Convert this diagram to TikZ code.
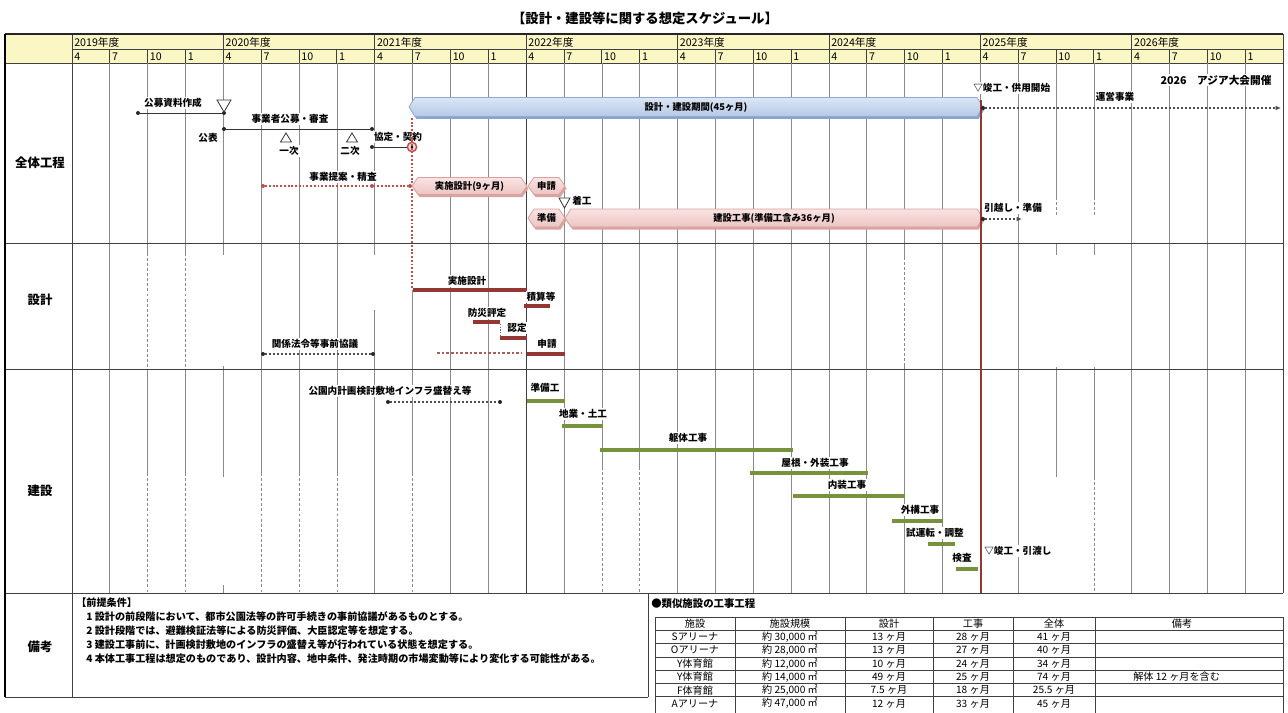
\documentclass[tikz,border=0pt]{standalone}
\usepackage{fontspec}
\setmainfont{Noto Sans CJK JP}
\usetikzlibrary{arrows.meta}
\definecolor{hdr}{HTML}{FAF7C4}
\definecolor{gridc}{HTML}{8A8A8A}
\definecolor{blueA}{HTML}{DCE6F4}
\definecolor{blueB}{HTML}{B4C8E6}
\definecolor{blueC}{HTML}{8FAAD4}
\definecolor{blueS}{HTML}{8AA5CC}
\definecolor{pinkA}{HTML}{F8E4E3}
\definecolor{pinkB}{HTML}{ECC4C2}
\definecolor{pinkC}{HTML}{D8A09E}
\definecolor{pinkS}{HTML}{D9A3A1}
\definecolor{dred}{HTML}{943634}
\definecolor{olive}{HTML}{76923C}
\definecolor{redline}{HTML}{C0504D}
% hexagonal bar: #1 style, #2 shadow colour, #3 x1, #4 x2, #5 y centre, #6 half height, #7 name, #8 text
\newcommand\hexbar[8]{%
  \fill[#2] ({#3+1.5},{#5+2.5}) -- ({#3+7.5},{#5-#6+2.5}) -- ({#4-4.5},{#5-#6+2.5}) -- ({#4+1.5},{#5+2.5}) -- ({#4-4.5},{#5+#6+2.5}) -- ({#3+7.5},{#5+#6+2.5}) -- cycle;
  \path[#1] (#3,#5) -- ({#3+6},{#5-#6}) -- ({#4-6},{#5-#6}) -- (#4,#5) -- ({#4-6},{#5+#6}) -- ({#3+6},{#5+#6}) -- cycle;
  \node[barlbl] (#7) at ({(#3+#4)/2},#5) {#8};}
% table row: #1 index, #2 y, #3..#7 cells
\newcommand\tabrow[7]{%
  \node[tab] (t#1a) at (695,#2) {#3};
  \node[tab] (t#1b) at (790,#2) {#4};
  \node[tab] (t#1c) at (889,#2) {#5};
  \node[tab] (t#1d) at (973,#2) {#6};
  \node[tab] (t#1e) at (1054,#2) {#7};}
\begin{document}
\begin{tikzpicture}[x=0.75pt,y=-0.75pt,
  lbl/.style={font=\bfseries\fontsize{7.2}{8}\selectfont, inner sep=0.8pt, fill=white},
  barlbl/.style={font=\bfseries\fontsize{7}{8}\selectfont, inner sep=0pt},
  sec/.style={font=\bfseries\fontsize{9.3}{11}\selectfont},
  hd/.style={font=\fontsize{8}{9}\selectfont, anchor=west, inner sep=0pt},
  note/.style={font=\bfseries\fontsize{7.6}{9}\selectfont, anchor=west, inner sep=0pt},
  tab/.style={font=\fontsize{7.6}{9}\selectfont, inner sep=0pt},
  grid/.style={draw=gridc, line width=0.55pt},
  gdash/.style={grid, dash pattern=on 2.2pt off 1.6pt},
  frame/.style={draw=black!75, line width=0.7pt},
  gbar/.style={draw=olive, line width=3.6pt},
  rbar/.style={draw=dred, line width=3pt},
  dotl/.style={draw=black!70, dash pattern=on 1.6pt off 1.4pt, line width=0.8pt},
  pdot/.style={draw=redline, dash pattern=on 1.4pt off 1.4pt, line width=0.9pt},
  rdash/.style={draw=dred!80, dash pattern=on 2pt off 1.5pt, line width=1.2pt},
  pt/.style={circle, fill=black!85, inner sep=0pt, minimum size=3pt},
  ppt/.style={circle, fill=redline, inner sep=0pt, minimum size=3pt},
  tri/.style={draw=black!80, line width=0.6pt, fill=white},
  bluehex/.style={top color=blueA, bottom color=blueB, draw=blueC, line width=0.6pt},
  pinkhex/.style={top color=pinkA, bottom color=pinkB, draw=pinkC, line width=0.6pt},
  arr/.style={-{Latex[length=4pt,width=3.5pt]}}
]
\useasboundingbox[fill=white] (0,0) rectangle (1288,713);

% title
\node[font=\bfseries\fontsize{10}{12}\selectfont] (title) at (645,18) {【設計・建設等に関する想定スケジュール】};

% header band
\fill[hdr] (5,35) rectangle (1283,63);
\foreach \yy in {0,...,7} {
  \pgfmathtruncatemacro\yr{2019+\yy}
  \node[hd] (yr\yy) at ({72+151.4*\yy+2},42) {\yr 年度};
  \foreach \m [count=\j from 0] in {4,7,10,1}
    \node[hd] (mo\yy-\j) at ({72+151.4*\yy+37.85*\j+2},56.5) {\m};
}
\foreach \k in {0,...,32} {
  \pgfmathsetmacro\xx{72+37.85*\k}
  \pgfmathsetmacro\yt{mod(\k,4)==0 ? 35 : 49}
  \draw[frame] (\xx,\yt) -- (\xx,63);
}
\draw[black!85, line width=1.1pt] (5,34) -- (1283,34);
\draw[frame] (72,49) -- (1283,49);
\draw[frame] (5,63) -- (1283,63);

% body grid
\foreach \k in {1,10,11,13,16,17,18,19,20,21,23,25,28,29,30,31} {
  \pgfmathsetmacro\xx{72+37.85*\k}
  \draw[grid] (\xx,63) -- (\xx,593);
}
\foreach \k in {2,3} {
  \pgfmathsetmacro\xx{72+37.85*\k}
  \draw[grid] (\xx,63) -- (\xx,253) (\xx,369) -- (\xx,473);
  \draw[gdash] (\xx,253) -- (\xx,369) (\xx,473) -- (\xx,593);
}
\foreach \k in {5,6,7} {
  \pgfmathsetmacro\xx{72+37.85*\k}
  \draw[grid] (\xx,63) -- (\xx,473);
  \draw[gdash] (\xx,473) -- (\xx,593);
}
\foreach \k in {14,15} {
  \pgfmathsetmacro\xx{72+37.85*\k}
  \draw[grid] (\xx,63) -- (\xx,467);
  \draw[gdash] (\xx,467) -- (\xx,593);
}
\draw[grid] (223.4,63) -- (223.4,255) (223.4,366) -- (223.4,477) (223.4,585) -- (223.4,593);
\draw[grid] (374.8,63) -- (374.8,255) (374.8,310) -- (374.8,593);
\draw[grid] (412.65,63) -- (412.65,108) (412.65,290) -- (412.65,473);
\draw[gdash] (412.65,473) -- (412.65,593);
\draw[black!75, line width=0.7pt] (526.2,63) -- (526.2,593);
\draw[grid] (904.7,63) -- (904.7,257) (904.7,363) -- (904.7,593);
\draw[gdash] (904.7,257) -- (904.7,363);
\draw[grid] (980.4,63) -- (980.4,100);
\draw[grid] (1056.1,63) -- (1056.1,197) (1056.1,243) -- (1056.1,255) (1056.1,367) -- (1056.1,477);
\draw[gdash] (1056.1,197) -- (1056.1,217);
\draw[grid] (1093.95,63) -- (1093.95,197) (1093.95,243) -- (1093.95,255) (1093.95,367) -- (1093.95,477);
\draw[gdash] (1093.95,197) -- (1093.95,217) (1093.95,477) -- (1093.95,593);

% frame lines
\draw[frame] (5,243) -- (1283,243);
\draw[frame] (5,369) -- (1283,369);
\draw[frame] (5,593) -- (1283,593);
\draw[frame] (5,697) -- (648,697);
\draw[frame] (648,593) -- (648,697);
\draw[frame] (72,35) -- (72,697);
\draw[frame] (1283,34) -- (1283,593);
\draw[black, line width=1.3pt] (5,34) -- (5,697);

% section labels
\node[sec] (secA) at (40,163) {全体工程};
\node[sec] (secB) at (40,300) {設計};
\node[sec] (secC) at (40,491) {建設};
\node[sec] (secD) at (40,647) {備考};

% ===== 全体工程 =====
\node[lbl] (l1) at (173,103) {公募資料作成};
\node[pt] (a1) at (138,113) {};
\node[pt] (a2) at (224,113) {};
\draw[black!80, line width=0.6pt] (a1) -- (a2);
\draw[tri] (217,100) -- (231,100) -- (224,112) -- cycle;

\node[lbl] (l2) at (290,119) {事業者公募・審査};
\node[pt] (b1) at (224,129) {};
\node[pt] (b2) at (372,129) {};
\draw[black!80, line width=0.6pt] (b1) -- (b2);
\node[lbl] (l3) at (208,138) {公表};
\draw[tri] (280.5,142) -- (291.5,142) -- (286,133) -- cycle;
\node[lbl] (l4) at (289,151) {一次};
\draw[tri] (346.5,142) -- (357.5,142) -- (352,133) -- cycle;
\node[lbl] (l5) at (350,151) {二次};
\node[lbl] (l6) at (398,137) {協定・契約};
\node[pt] (c1) at (372,147) {};
\node[circle, draw=redline, line width=1.1pt, fill=redline!20, minimum size=7pt, inner sep=0pt] (c2) at (412,147) {};
\draw[black!80, line width=0.6pt] (c1) -- (c2);
\fill[black] (c2.center) circle (1.3);

\node[lbl] (l7) at (343,177) {事業提案・精査};
\node[ppt] (d1) at (263,186) {};
\node[ppt] (d2) at (372,186) {};
\node[ppt] (d3) at (410,186) {};
\draw[pdot] (d1) -- (d3);
\draw[pdot] (412,118) -- (412,289);

\hexbar{bluehex}{blueS}{409}{983}{107}{9.5}{bb}{設計・建設期間(45ヶ月)}
\hexbar{pinkhex}{pinkS}{412}{527}{186}{8.5}{pb1}{実施設計(9ヶ月)}
\hexbar{pinkhex}{pinkS}{528}{565}{186}{8.5}{pb2}{申請}
\hexbar{pinkhex}{pinkS}{528}{565}{218}{9}{pb3}{準備}
\hexbar{pinkhex}{pinkS}{565}{983}{218}{9}{pb4}{建設工事(準備工含み36ヶ月)}

\draw[tri] (559,198) -- (570,198) -- (564.5,208) -- cycle;
\node[lbl, anchor=west] (l11) at (571,201) {着工};

\draw[dred, line width=1.3pt] (981,100) -- (981,593);

\node[lbl, anchor=west] (l8) at (972,88) {▽竣工・供用開始};
\node[pt] (e1) at (983,108) {};
\coordinate (e2) at (1281,108);
\draw[dotl, arr] (e1) -- (e2);
\node[lbl] (l9) at (1115,97) {運営事業};
\node[font=\bfseries\fontsize{8}{9}\selectfont, inner sep=0.8pt, fill=white] (l10) at (1216,80) {2026　アジア大会開催};

\node[lbl, anchor=west] (l12) at (983,208) {引越し・準備};
\node[pt] (f1) at (983,219) {};
\coordinate (f2) at (1022,219);
\draw[dotl, arr] (f1) -- (f2);

% ===== 設計 =====
\draw[rbar] (413,290) -- (527,290);
\node[lbl] (s1) at (467,281) {実施設計};
\draw[rbar] (524,306) -- (550,306);
\node[lbl] (s2) at (541,297) {積算等};
\draw[rbar] (473,322) -- (500,322);
\node[lbl] (s3) at (487,313) {防災評定};
\draw[black!60, dash pattern=on 1pt off 1pt] (500,324) -- (500,336);
\draw[rbar] (500,338) -- (527,338);
\node[lbl] (s4) at (517,328) {認定};
\draw[rbar] (527,354) -- (565,354);
\node[lbl] (s5) at (547,344) {申請};
\draw[rdash] (437,353) -- (522,353);
\node[lbl] (s6) at (315,344) {関係法令等事前協議};
\node[pt] (g1) at (263,354) {};
\node[pt] (g2) at (373,354) {};
\draw[dotl] (g1) -- (g2);

% ===== 建設 =====
\node[lbl] (k0) at (390,391) {公園内計画検討敷地インフラ盛替え等};
\node[pt] (h1) at (388,402) {};
\node[pt] (h2) at (500,402) {};
\draw[dotl] (h1) -- (h2);
\draw[gbar] (527,401) -- (565,401);
\node[lbl] (k1) at (545,388) {準備工};
\draw[gbar] (562,426) -- (603,426);
\node[lbl] (k2) at (583,414) {地業・土工};
\draw[gbar] (600,450) -- (793,450);
\node[lbl] (k3) at (688,438) {躯体工事};
\draw[gbar] (750,473) -- (868,473);
\node[lbl] (k4) at (815,463) {屋根・外装工事};
\draw[gbar] (793,496) -- (905,496);
\node[lbl] (k5) at (847,485) {内装工事};
\draw[gbar] (892,521) -- (943,521);
\node[lbl] (k6) at (920,510) {外構工事};
\draw[gbar] (928,544) -- (955,544);
\node[lbl] (k7) at (935,533) {試運転・調整};
\draw[gbar] (956,569) -- (978,569);
\node[lbl] (k8) at (962,558) {検査};
\node[lbl, anchor=west] (k9) at (983,551) {▽竣工・引渡し};

% ===== 備考 =====
\node[note] (n0) at (76,603) {【前提条件】};
\node[note] (n1) at (86,617) {1 設計の前段階において、都市公園法等の許可手続きの事前協議があるものとする。};
\node[note] (n2) at (86,631) {2 設計段階では、避難検証法等による防災評価、大臣認定等を想定する。};
\node[note] (n3) at (86,645) {3 建設工事前に、計画検討敷地のインフラの盛替え等が行われている状態を想定する。};
\node[note] (n4) at (86,659) {4 本体工事工程は想定のものであり、設計内容、地中条件、発注時期の市場変動等により変化する可能性がある。};

% ===== table =====
\node[font=\bfseries\fontsize{7.8}{9}\selectfont, anchor=west, inner sep=0pt] (tt) at (651,604) {●類似施設の工事工程};
\foreach \i in {0,...,6} \draw[frame, line width=0.6pt] (655,{617+13.3*\i}) -- (1283,{617+13.3*\i});
\foreach \xx in {655,735,845,933,1013,1095,1283} \draw[frame, line width=0.6pt] (\xx,617) -- (\xx,713);
\tabrow{0}{623.65}{施設}{施設規模}{設計}{工事}{全体}
\node[tab] (t0f) at (1182,623.65) {備考};
\tabrow{1}{636.95}{Sアリーナ}{約 30,000 ㎡}{13 ヶ月}{28 ヶ月}{41 ヶ月}
\tabrow{2}{650.25}{Oアリーナ}{約 28,000 ㎡}{13 ヶ月}{27 ヶ月}{40 ヶ月}
\tabrow{3}{663.55}{Y体育館}{約 12,000 ㎡}{10 ヶ月}{24 ヶ月}{34 ヶ月}
\tabrow{4}{676.85}{Y体育館}{約 14,000 ㎡}{49 ヶ月}{25 ヶ月}{74 ヶ月}
\node[tab, anchor=west] (t4f) at (1133,676.85) {解体 12 ヶ月を含む};
\tabrow{5}{690.15}{F体育館}{約 25,000 ㎡}{7.5 ヶ月}{18 ヶ月}{25.5 ヶ月}
\tabrow{6}{703.45}{Aアリーナ}{約 47,000 ㎡}{12 ヶ月}{33 ヶ月}{45 ヶ月}
\end{tikzpicture}
\end{document}
